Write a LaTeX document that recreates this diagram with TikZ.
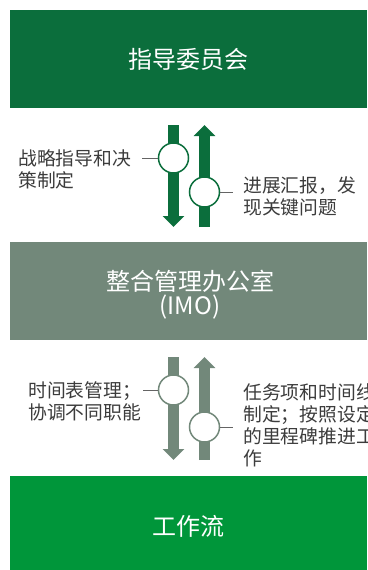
\documentclass[tikz,border=0pt]{standalone}
\usepackage{fontspec}
\setmainfont{Noto Sans CJK SC}
\usetikzlibrary{arrows.meta}
\definecolor{steer}{RGB}{11,110,60}
\definecolor{imo}{RGB}{114,136,122}
\definecolor{work}{RGB}{0,150,58}
\definecolor{txt}{RGB}{60,60,60}
\definecolor{lead}{RGB}{100,100,100}
\tikzset{
  band/.style={minimum width=357pt, minimum height=98pt, inner sep=0pt, anchor=north west, text=white, font=\fontsize{24}{25}\selectfont, align=center},
  title/.style={text=white, font=\fontsize{24}{24}\selectfont, align=center, inner sep=0pt},
  flow/.style={line width=11pt, -{Triangle[width=21pt,length=11pt]}},
  knob/.style={circle, draw=#1, fill=white, line width=1.5pt, minimum size=30pt, inner sep=0pt},
  leader/.style={draw=lead, line width=0.8pt},
  label/.style={text=txt, font=\fontsize{18.8}{22}\selectfont, align=left, inner sep=0pt}
}
\begin{document}
\begin{tikzpicture}[x=1pt,y=-1pt]
\useasboundingbox (0,0) rectangle (367,570);
\clip (0,0) rectangle (367,570);
% bands
\node[band, fill=steer] (sc) at (10,10) {指导委员会};
\node[band, fill=imo] (imo) at (10,242) {};
\node[title] (imot) at (190,295) {整合管理办公室\\(IMO)};
\node[band, fill=work, minimum height=100pt] (wf) at (10,476) {工作流};
% section 1 arrows
\coordinate (d1s) at (173.5,125);
\coordinate (d1e) at (173.5,227);
\coordinate (u1s) at (204.5,227);
\coordinate (u1e) at (204.5,125);
\draw[flow, steer] (d1s) -- (d1e);
\draw[flow, steer] (u1s) -- (u1e);
\node[knob=steer] (k1) at (173.5,158) {};
\node[knob=steer] (k2) at (204.5,192) {};
\coordinate (l1) at (142,158);
\coordinate (r1) at (233,192);
\draw[leader] (k1.west) -- (l1);
\draw[leader] (k2.east) -- (r1);
\node[label, anchor=west] (t1) at (18,169) {战略指导和决\\策制定};
\node[label, anchor=west] (t2) at (243,196) {进展汇报，发\\现关键问题};
% section 2 arrows
\coordinate (d2s) at (173.5,357);
\coordinate (d2e) at (173.5,460);
\coordinate (u2s) at (204.5,460);
\coordinate (u2e) at (204.5,357);
\draw[flow, imo] (d2s) -- (d2e);
\draw[flow, imo] (u2s) -- (u2e);
\node[knob=imo] (k3) at (173.5,390) {};
\node[knob=imo] (k4) at (204.5,427) {};
\coordinate (l2) at (143,390);
\coordinate (r2) at (233,427);
\draw[leader] (k3.west) -- (l2);
\draw[leader] (k4.east) -- (r2);
\node[label, anchor=west] (t3) at (28,401) {时间表管理；\\协调不同职能};
\node[label, anchor=west] (t4) at (243,425) {任务项和时间线\\制定；按照设定\\的里程碑推进工\\作};
\end{tikzpicture}
\end{document}
